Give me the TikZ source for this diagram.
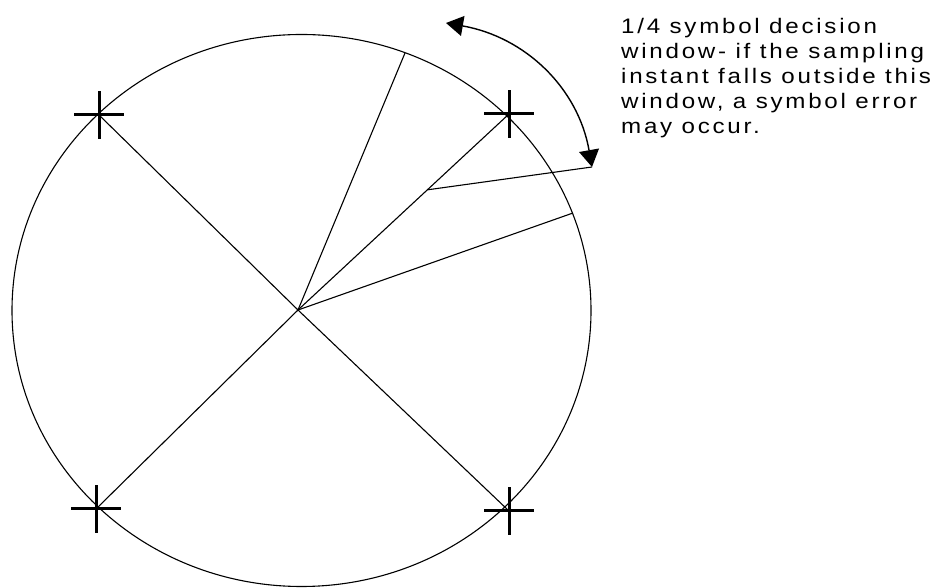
\documentclass[tikz,border=0pt]{standalone}
\usepackage{fontspec}
\newfontfamily\notefont{Liberation Sans}[FakeStretch=1.15, LetterSpace=13]
\usepackage{tikz}
\usetikzlibrary{arrows.meta,calc}

\begin{document}
\begin{tikzpicture}[x=1pt, y=1pt,
      bord/.style={draw=black, line width=1.1pt},
      trait/.style={draw=black, line width=1.1pt},
      marque/.style={draw=black, line width=3pt},
      fleche/.style={{Triangle[length=17pt,width=20pt]}-{Triangle[length=17pt,width=20pt]}, line width=1.4pt},
      note/.style={font=\notefont\fontsize{21}{25}\selectfont, align=left, inner sep=0pt, anchor=north west}]
    \useasboundingbox (0,0) rectangle (936,588);
    % points du diagramme
    \coordinate (rond) at (301.5,277.5);
    \coordinate (ctr)  at (298,278);
    \coordinate (hg)   at (99,473);
    \coordinate (hd)   at (509,474);
    \coordinate (bg)   at (96,79);
    \coordinate (bd)   at (509,77);
    \coordinate (bordA) at (405,535);
    \coordinate (bordB) at (573,375);
    \coordinate (coude) at ($(ctr)!0.613!(hd)$);
    \coordinate (pointe) at (592,421);
    \coordinate (depart) at (446,565);
    \draw[bord] (rond) ellipse [x radius=289.5, y radius=276];
    \foreach \p in {hg,hd,bg,bd} {
      \draw[trait] (ctr) -- (\p);
      \draw[marque] (\p) ++(-25,0) -- ++(50,0) (\p) ++(0,-24) -- ++(0,48);
    }
    \draw[trait] (ctr) -- (bordA);
    \draw[trait] (ctr) -- (bordB);
    \draw[trait] (coude) -- (pointe);
    \draw[fleche] (depart) to[out=-10, in=100] (pointe);
    \node[note] (texte) at (621,570) {1/4 symbol decision\\window- if the sampling\\instant falls outside this\\window, a symbol error\\may occur.};
  \end{tikzpicture}
\end{document}
